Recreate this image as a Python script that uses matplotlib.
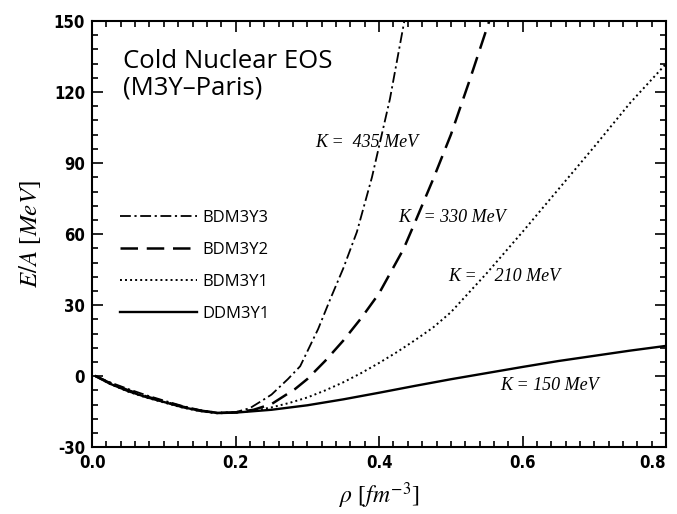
import numpy as np
import matplotlib.pyplot as plt
from matplotlib.ticker import MultipleLocator

plt.rcParams['mathtext.fontset'] = 'stix'
plt.rcParams['axes.unicode_minus'] = False

# --- data: density rho [fm^-3], energy per nucleon E/A [MeV] ---
rho_ddm3y1 = [0.005, 0.025, 0.05, 0.075, 0.1, 0.125, 0.15, 0.175, 0.2, 0.25, 0.3,
              0.35, 0.4, 0.45, 0.5, 0.55, 0.6, 0.65, 0.7, 0.75, 0.8]
e_ddm3y1 = [0.0, -3.2, -6.3, -8.8, -10.9, -13.0, -14.6, -15.6, -15.4, -14.2, -12.3,
            -9.8, -7.0, -4.1, -1.3, 1.3, 3.9, 6.4, 8.6, 10.8, 12.8]

rho_bdm3y1 = [0.005, 0.025, 0.05, 0.075, 0.1, 0.125, 0.15, 0.175, 0.2, 0.225, 0.25,
              0.275, 0.3, 0.325, 0.35, 0.375, 0.4, 0.425, 0.45, 0.475, 0.5, 0.55,
              0.6, 0.65, 0.7, 0.75, 0.8]
e_bdm3y1 = [0.0, -3.3, -6.5, -9.0, -11.1, -13.2, -14.8, -15.7, -15.4, -14.6, -13.2,
            -11.3, -9.0, -6.0, -2.6, 1.3, 5.6, 10.2, 15.2, 20.5, 27.0, 43.5,
            61.0, 79.0, 97.0, 115.5, 132.0]

rho_bdm3y2 = [0.005, 0.025, 0.05, 0.075, 0.1, 0.125, 0.15, 0.175, 0.2, 0.225, 0.25,
              0.283, 0.3, 0.325, 0.35, 0.375, 0.4, 0.434, 0.45, 0.475, 0.5, 0.525, 0.56]
e_bdm3y2 = [0.0, -2.9, -5.9, -8.5, -10.7, -12.8, -14.5, -15.5, -15.3, -14.2, -11.8,
            -5.4, -1.2, 6.5, 15.0, 24.5, 35.0, 53.7, 65.0, 83.0, 102.0, 124.0, 156.0]

rho_bdm3y3 = [0.005, 0.025, 0.05, 0.075, 0.1, 0.125, 0.15, 0.175, 0.2, 0.22, 0.236,
              0.25, 0.273, 0.29, 0.315, 0.332, 0.35, 0.369, 0.39, 0.415, 0.44]
e_bdm3y3 = [0.0, -2.6, -5.4, -8.0, -10.3, -12.5, -14.3, -15.4, -15.2, -13.5, -10.5,
            -7.8, -1.2, 4.2, 19.9, 32.6, 45.5, 60.9, 84.0, 117.0, 158.0]

labels = ['BDM3Y3', 'BDM3Y2', 'BDM3Y1', 'DDM3Y1']
k_texts = ['K =  435 MeV', 'K   = 330 MeV', 'K =    210 MeV', 'K = 150 MeV']
k_rho = [0.383, 0.502, 0.574, 0.638]
k_e = [98.9, 67.2, 42.3, -3.8]
x_ticks = [0.0, 0.2, 0.4, 0.6, 0.8]
x_ticklabels = ['0.0', '0.2', '0.4', '0.6', '0.8']

fig = plt.figure(figsize=(6.77, 5.14), dpi=100)
ax = fig.add_axes([0.136, 0.130, 0.848, 0.829])

ax.plot(rho_bdm3y3, e_bdm3y3, color='black', lw=1.3, ls=(0, (6, 2, 1.2, 2)), label=labels[0])
ax.plot(rho_bdm3y2, e_bdm3y2, color='black', lw=1.8, ls=(0, (7, 3.5)), label=labels[1])
ax.plot(rho_bdm3y1, e_bdm3y1, color='black', lw=1.4, ls=(0, (1, 1.6)), label=labels[2])
ax.plot(rho_ddm3y1, e_ddm3y1, color='black', lw=1.7, ls='-', label=labels[3])

for txt, x, y in zip(k_texts, k_rho, k_e):
    ax.text(x, y, txt, ha='center', va='center', fontsize=13,
            family='Liberation Serif', style='italic')

ax.text(0.054, 0.935, 'Cold Nuclear EOS\n(M3Y\u2013Paris)', transform=ax.transAxes,
        ha='left', va='top', fontsize=18.5, family='Open Sans', linespacing=1.1)

leg = ax.legend(loc='upper left', bbox_to_anchor=(0.049, 0.556), frameon=False,
                borderpad=0, borderaxespad=0, handlelength=4.6, handletextpad=0.35,
                labelspacing=0.95, prop={'family': 'Open Sans', 'size': 12})

ax.set_xticks(x_ticks)
ax.set_xticklabels(x_ticklabels)
ax.xaxis.set_minor_locator(MultipleLocator(0.02))
ax.yaxis.set_major_locator(MultipleLocator(30))
ax.yaxis.set_minor_locator(MultipleLocator(6))
ax.set_xlim(0.0, 0.8)
ax.set_ylim(-30, 150)
ax.tick_params(which='both', direction='in', top=True, right=True, width=1.2)
ax.tick_params(which='major', length=8, pad=5)
ax.tick_params(which='minor', length=4)
for sp in ax.spines.values():
    sp.set_linewidth(1.5)

ax.set_xlabel(r'$\rho$ [$fm^{-3}$]', fontsize=17, family='Liberation Serif', labelpad=6)
ax.set_ylabel(r'$E/A$ [$MeV$]', fontsize=18, family='Liberation Serif', labelpad=8)

fig.canvas.draw()
for lab in ax.get_xticklabels() + ax.get_yticklabels():
    lab.set_family('DejaVu Sans')
    lab.set_fontstretch('condensed')
    lab.set_fontweight('bold')
    lab.set_fontsize(12)
# keep the last x label inside the canvas
ax.get_xticklabels()[-1].set_horizontalalignment('right')

fig.savefig('out.png', dpi=100)
